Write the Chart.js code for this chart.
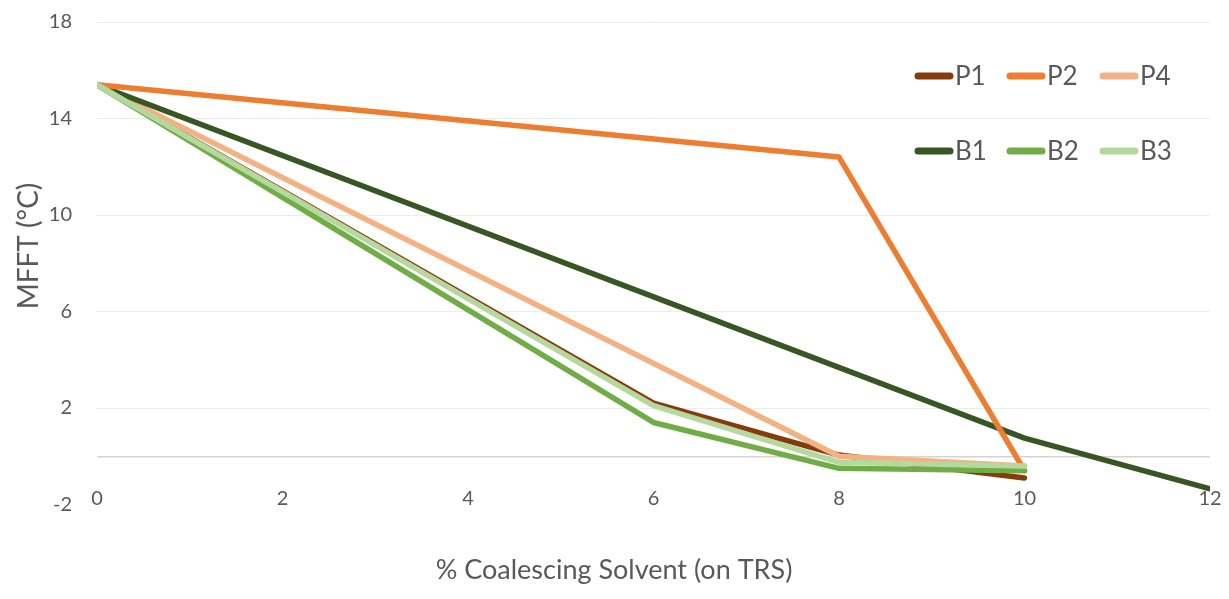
<!DOCTYPE html>
<html>
<head>
<meta charset="utf-8">
<script src="https://cdn.jsdelivr.net/npm/chart.js@4.4.1/dist/chart.umd.min.js"></script>
<style>
  html, body { margin: 0; padding: 0; background: #ffffff; }
  #wrap { width: 1229px; height: 599px; }
</style>
</head>
<body>
<div id="wrap"><canvas id="mfft" width="1229" height="599"></canvas></div>
<script>
// MFFT (°C) against % coalescing solvent, one series per binder
const seriesNames = ['P1', 'P2', 'P4', 'B1', 'B2', 'B3'];
const seriesColors = ['#843C0C', '#ED7D31', '#F4B183', '#375623', '#70AD47', '#B5D89F'];

const xP1 = [0, 6, 8, 10];
const yP1 = [15.4, 2.2, 0.05, -0.9];

const xP2 = [0, 8, 10];
const yP2 = [15.4, 12.4, -0.6];

const xP4 = [0, 8, 10];
const yP4 = [15.4, 0.0, -0.4];

const xB1 = [0, 10, 12];
const yB1 = [15.4, 0.75, -1.35];

const xB2 = [0, 6, 8, 10];
const yB2 = [15.4, 1.4, -0.5, -0.6];

const xB3 = [0, 6, 8, 10];
const yB3 = [15.4, 2.1, -0.25, -0.4];

const xTicks = [0, 2, 4, 6, 8, 10, 12];
const yTicks = [-2, 2, 6, 10, 14, 18];
const legendRows = [['P1', 'P2', 'P4'], ['B1', 'B2', 'B3']];
const xAxisTitle = '% Coalescing Solvent (on TRS)';
const yAxisTitle = 'MFFT (°C)';

const xs = [xP1, xP2, xP4, xB1, xB2, xB3];
const ys = [yP1, yP2, yP4, yB1, yB2, yB3];
// stacking: larger order is painted first (underneath)
const drawOrder = [6, 3, 5, 4, 2, 1];

const FONT = 'Lato, "Open Sans", "DejaVu Sans", sans-serif';
const GREY = '#595959';

const datasets = seriesNames.map((name, i) => ({
  label: name,
  data: xs[i].map((x, j) => ({ x: x, y: ys[i][j] })),
  borderColor: seriesColors[i],
  backgroundColor: seriesColors[i],
  borderWidth: 5.5,
  borderJoinStyle: 'round',
  borderCapStyle: 'round',
  pointRadius: 0,
  pointHoverRadius: 0,
  tension: 0,
  fill: false,
  showLine: true,
  order: drawOrder[i]
}));

const whiteBackground = {
  id: 'whiteBackground',
  beforeDraw(chart) {
    const ctx = chart.ctx;
    ctx.save();
    ctx.fillStyle = '#ffffff';
    ctx.fillRect(0, 0, chart.width, chart.height);
    ctx.restore();
  }
};

// axis titles, placed a little off the plot centre
const axisTitles = {
  id: 'axisTitles',
  afterDraw(chart) {
    const ctx = chart.ctx;
    ctx.save();
    ctx.fillStyle = GREY;
    ctx.textAlign = 'center';
    ctx.textBaseline = 'middle';
    ctx.font = '27px ' + FONT;
    ctx.fillText(xAxisTitle, 614, 570);
    ctx.translate(29, 246);
    ctx.rotate(-Math.PI / 2);
    ctx.font = '28px ' + FONT;
    ctx.fillText(yAxisTitle, 0, 0);
    ctx.restore();
  }
};

// two-row legend in the upper right of the plot
const gridLegend = {
  id: 'gridLegend',
  afterDraw(chart) {
    const ctx = chart.ctx;
    const colX = [915, 1007, 1100];
    const rowY = [76, 151];
    const swatch = 38;
    ctx.save();
    ctx.font = '26px ' + FONT;
    ctx.textBaseline = 'middle';
    ctx.textAlign = 'left';
    legendRows.forEach((row, r) => {
      row.forEach((name, c) => {
        const ds = chart.data.datasets.find(d => d.label === name);
        const x = colX[c], y = rowY[r];
        ctx.strokeStyle = ds.borderColor;
        ctx.lineWidth = 7;
        ctx.lineCap = 'round';
        ctx.beginPath();
        ctx.moveTo(x + 3, y);
        ctx.lineTo(x + swatch - 3, y);
        ctx.stroke();
        ctx.fillStyle = GREY;
        ctx.fillText(name, x + swatch + 2, y + 1);
      });
    });
    ctx.restore();
  }
};

new Chart(document.getElementById('mfft'), {
  type: 'scatter',
  data: { datasets: datasets },
  options: {
    responsive: false,
    animation: false,
    devicePixelRatio: 1,
    layout: { padding: { top: 22, right: 19, left: 0, bottom: 0 } },
    plugins: {
      legend: { display: false },
      tooltip: { enabled: false }
    },
    scales: {
      // value axis labels, anchored to the bottom of the plot (y = -2)
      x: {
        type: 'linear',
        position: { y: -2 },
        min: 0,
        max: 12,
        afterBuildTicks(scale) { scale.ticks = xTicks.map(v => ({ value: v })); },
        grid: { display: false, drawTicks: false },
        border: { display: false },
        ticks: {
          padding: -18,
          color: GREY,
          font: { family: FONT, size: 20 },
          maxRotation: 0
        }
      },
      // reserves the band under the plot that holds the axis title
      xTitle: {
        type: 'linear',
        axis: 'x',
        position: 'bottom',
        min: 0,
        max: 12,
        afterFit(scale) { scale.height = 94.5; },
        grid: { display: false, drawTicks: false },
        border: { display: false },
        ticks: { display: false }
      },
      y: {
        type: 'linear',
        min: -2,
        max: 18,
        afterBuildTicks(scale) {
          scale.ticks = [yTicks[0], 0].concat(yTicks.slice(1)).map(v => ({ value: v }));
        },
        afterFit(scale) {
          scale.width = 97;
          scale.paddingTop = 0;
          scale.paddingBottom = 0;
        },
        grid: {
          drawTicks: false,
          lineWidth: v => (v.tick && v.tick.value === 0 ? 1.5 : 1),
          color: v => {
            if (!v.tick) return 'rgba(0,0,0,0)';
            if (v.tick.value === 0) return '#d4d4d4';
            if (v.tick.value === -2) return 'rgba(0,0,0,0)';
            return '#ececec';
          }
        },
        border: { display: false },
        ticks: {
          padding: 25,
          color: GREY,
          font: { family: FONT, size: 20 },
          callback: v => (v === 0 ? '' : String(v))
        }
      }
    }
  },
  plugins: [whiteBackground, axisTitles, gridLegend]
});
</script>
</body>
</html>
